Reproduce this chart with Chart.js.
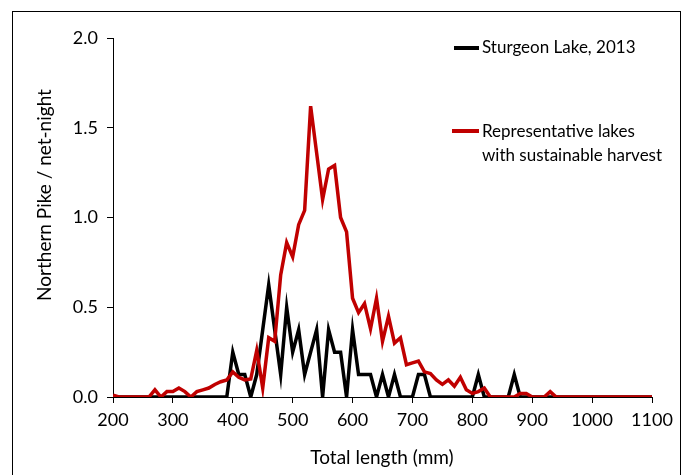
<!DOCTYPE html>
<html>
<head>
<meta charset="utf-8">
<script src="https://cdn.jsdelivr.net/npm/chart.js@4/dist/chart.umd.min.js"></script>
<style>
  html, body { margin: 0; padding: 0; background: #fff; }
  #wrap { width: 688px; height: 475px; }
</style>
</head>
<body>
<div id="wrap"><canvas id="chart" width="688" height="475"></canvas></div>
<script>
/* Total length bins (mm) */
var lengths = [200, 210, 220, 230, 240, 250, 260, 270, 280, 290,
  300, 310, 320, 330, 340, 350, 360, 370, 380, 390,
  400, 410, 420, 430, 440, 450, 460, 470, 480, 490,
  500, 510, 520, 530, 540, 550, 560, 570, 580, 590,
  600, 610, 620, 630, 640, 650, 660, 670, 680, 690,
  700, 710, 720, 730, 740, 750, 760, 770, 780, 790,
  800, 810, 820, 830, 840, 850, 860, 870, 880, 890,
  900, 910, 920, 930, 940, 950, 960, 970, 980, 990,
  1000, 1010, 1020, 1030, 1040, 1050, 1060, 1070, 1080, 1090, 1100];

/* Sturgeon Lake, 2013 (pike / net-night) */
var sturgeon = [0, 0, 0, 0, 0, 0, 0, 0, 0, 0,
  0, 0, 0, 0, 0, 0, 0, 0, 0, 0,
  0.25, 0.125, 0.125, 0, 0.125, 0.375, 0.625, 0.375, 0.125, 0.5,
  0.25, 0.375, 0.125, 0.25, 0.375, 0, 0.375, 0.25, 0.25, 0,
  0.375, 0.125, 0.125, 0.125, 0, 0.125, 0, 0.125, 0, 0,
  0, 0.125, 0.125, 0, 0, 0, 0, 0, 0, 0,
  0, 0.125, 0, 0, 0, 0, 0, 0.125, 0, 0,
  0, 0, 0, 0, 0, 0, 0, 0, 0, 0,
  0, 0, 0, 0, 0, 0, 0, 0, 0, 0, 0];

/* Representative lakes with sustainable harvest */
var representative = [0.01, 0, 0, 0, 0, 0, 0, 0.04, 0, 0.03,
  0.03, 0.05, 0.03, 0, 0.03, 0.04, 0.05, 0.07, 0.085, 0.095,
  0.14, 0.11, 0.095, 0.1, 0.26, 0.05, 0.33, 0.31, 0.68, 0.86,
  0.78, 0.96, 1.04, 1.62, 1.36, 1.10, 1.27, 1.29, 1.0, 0.92,
  0.55, 0.47, 0.52, 0.38, 0.55, 0.31, 0.45, 0.30, 0.33, 0.18,
  0.19, 0.20, 0.14, 0.13, 0.095, 0.07, 0.095, 0.06, 0.11, 0.04,
  0.02, 0.03, 0.05, 0, 0, 0, 0, 0, 0.02, 0.02,
  0, 0, 0, 0.03, 0, 0, 0, 0, 0, 0,
  0, 0, 0, 0, 0, 0, 0, 0, 0, 0, 0];

var yTicks = [0, 0.5, 1.0, 1.5, 2.0];
var xTicks = [200, 300, 400, 500, 600, 700, 800, 900, 1000, 1100];

var FONT = "Lato, 'Open Sans', sans-serif";

function pts(vals){
  return vals.map(function(v, i){ return { x: lengths[i], y: v }; });
}

// frame, axis titles and the legend block
var decor = {
  id: 'decor',
  beforeDraw: function(chart){
    var c = chart.ctx;
    c.save();
    c.fillStyle = '#fff';
    c.fillRect(0, 0, chart.width, chart.height);
    c.restore();
  },
  afterDraw: function(chart){
    var c = chart.ctx;
    c.save();
    c.strokeStyle = '#000';
    c.lineWidth = 1;
    c.strokeRect(12.5, 11.5, 668, 480);

    c.fillStyle = '#000';
    c.font = "19px " + FONT;
    c.textAlign = 'center';
    c.textBaseline = 'middle';
    c.fillText('Total length (mm)', 382, 458);

    c.save();
    c.translate(45, 195);
    c.rotate(-Math.PI / 2);
    c.fillText('Northern Pike / net-night', 0, 0);
    c.restore();

    // legend
    c.lineWidth = 4;
    c.strokeStyle = '#000';
    c.beginPath(); c.moveTo(454, 48); c.lineTo(479, 48); c.stroke();
    c.strokeStyle = '#c00000';
    c.beginPath(); c.moveTo(452, 131); c.lineTo(479, 131); c.stroke();

    c.font = "17px " + FONT;
    c.textAlign = 'left';
    c.fillText('Sturgeon Lake, 2013', 482, 48);
    c.fillText('Representative lakes', 482, 132);
    c.fillText('with sustainable harvest', 482, 156);
    c.restore();
  }
};

var ctx = document.getElementById('chart').getContext('2d');
var chart = new Chart(ctx, {
  type: 'line',
  data: {
    datasets: [{
      label: 'Sturgeon Lake, 2013',
      data: pts(sturgeon),
      borderColor: '#000',
      borderWidth: 3.5,
      pointRadius: 0,
      tension: 0,
      order: 1
    }, {
      label: 'Representative lakes with sustainable harvest',
      data: pts(representative),
      borderColor: '#c00000',
      borderWidth: 3.5,
      pointRadius: 0,
      tension: 0,
      order: 0
    }]
  },
  options: {
    responsive: false,
    animation: false,
    layout: { padding: { left: 0, top: 38, right: 36, bottom: 0 } },
    plugins: { legend: { display: false }, tooltip: { enabled: false } },
    scales: {
      x: {
        type: 'linear',
        min: 200,
        max: 1100,
        afterFit: function(s){ s.height = 78; },
        afterBuildTicks: function(s){ s.ticks = xTicks.map(function(v){ return { value: v }; }); },
        border: { display: true, color: '#000', width: 1 },
        grid: { display: true, drawOnChartArea: false, drawTicks: true, tickLength: 6, color: '#000' },
        ticks: {
          color: '#000', font: { family: FONT, size: 18 }, padding: 6, maxRotation: 0,
          callback: function(v){ return String(v); }
        }
      },
      y: {
        min: 0,
        max: 2.0,
        afterFit: function(s){ s.width = 113; },
        afterBuildTicks: function(s){ s.ticks = yTicks.map(function(v){ return { value: v }; }); },
        border: { display: true, color: '#000', width: 1 },
        grid: { display: true, drawOnChartArea: false, drawTicks: true, tickLength: 6, color: '#000' },
        ticks: {
          color: '#000', font: { family: FONT, size: 18 }, padding: 9,
          callback: function(v){ return v.toFixed(1); }
        }
      }
    }
  },
  plugins: [decor]
});
</script>
</body>
</html>
